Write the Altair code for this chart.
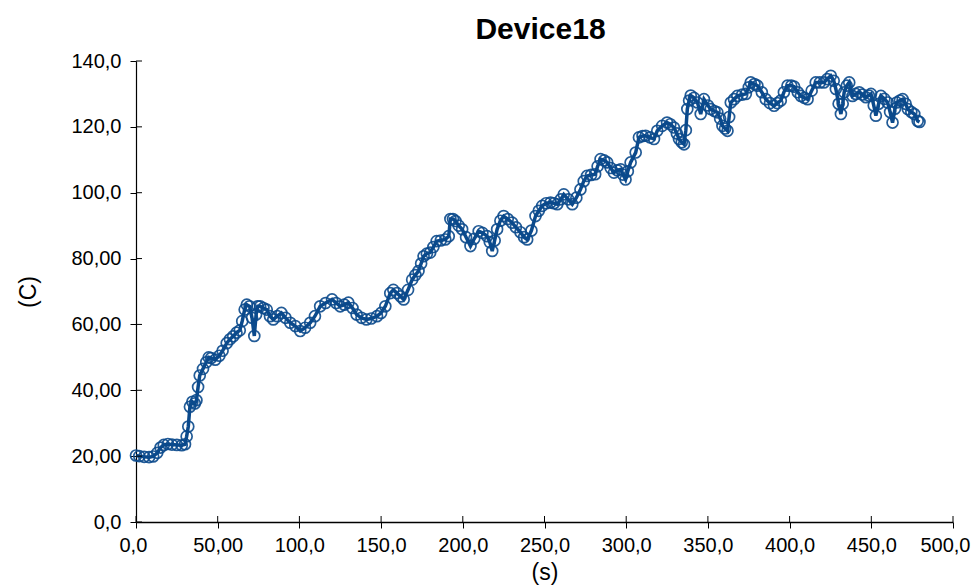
import altair as alt
import pandas as pd

# Temperature trace of Device18: time (s) and temperature (C)
time_s = [
    0, 2, 5, 8, 10.5, 13, 15, 17, 19.5, 22, 25, 28, 30, 31, 32, 33, 34.5, 36, 37, 38,
    39, 41, 43, 44.5, 46, 48.5, 51, 53, 55.5, 57.5, 59.5, 61.5, 63.5, 65, 66.5, 67.8, 69.5, 71, 72.4, 73.5,
    74.5, 76, 78, 80, 82, 84, 86.5, 89, 91.5, 94.4, 97.5, 100.5, 103.5, 106.6, 109.5, 112.7, 116, 120, 122.5, 125,
    127.5, 130, 132.5, 135, 138, 141, 144, 147.5, 150, 152.6, 155.6, 157.5, 159.7, 162, 163.8, 166.5, 169, 171, 172.9, 174.5,
    176, 178, 180, 182, 184, 186.5, 189.3, 191.4, 192.4, 194, 195.5, 197.5, 199.6, 202, 204.7, 207, 209.7, 212, 214.9, 216.5,
    218, 219.5, 221, 223, 225, 227.5, 230.2, 232.5, 235.3, 237.5, 239.4, 242, 244.5, 246.5, 248.6, 251, 253.7, 255.8, 257.8, 260,
    261.8, 264.5, 267, 269.5, 272, 274, 276, 278.5, 281, 282.5, 284.3, 286.5, 288.4, 290.5, 292.5, 294.5, 296.6, 298, 299.6, 301,
    302.7, 305.8, 307.8, 310, 311.9, 314.5, 317, 319, 322, 325, 327, 329.2, 331, 332.3, 334, 335.4, 336.5, 337.4, 338.5, 339.5,
    341.5, 343.6, 345.6, 347.6, 350, 351.7, 354, 355.8, 357.5, 358.9, 360.5, 362, 363, 364, 366, 368, 371, 373.2, 375, 376.2,
    378.5, 380.3, 383, 385.4, 388, 390.5, 392.5, 394.6, 396.5, 398.7, 401, 402.8, 405, 406.9, 409, 411, 413.5, 416, 418.5, 421,
    423, 425.2, 427, 428.3, 430, 431.4, 432.5, 433.4, 435, 436.5, 438.5, 440.5, 442.6, 444.5, 446.7, 448.5, 449.8, 451.5, 452.8, 454.5,
    455.9, 458, 460, 461.5, 463, 464.5, 465.5, 467.5, 469.2, 471, 472.3, 474.5, 476.3, 478.4, 479.5,
]
temp_c = [
    20.2, 20.0, 19.8, 19.7, 19.9, 21.0, 22.6, 23.4, 23.7, 23.5, 23.4, 23.3, 23.6, 26.0, 29.0, 35.0, 36.5, 36.0, 37.0, 41.0,
    44.5, 46.5, 48.5, 50.0, 49.8, 49.3, 50.5, 52.0, 54.3, 55.5, 56.4, 57.5, 58.2, 61.0, 64.5, 66.0, 65.5, 62.0, 56.5, 63.0,
    65.5, 65.5, 65.0, 64.5, 62.5, 61.5, 62.5, 63.5, 62.0, 60.5, 59.5, 58.0, 59.0, 60.5, 62.5, 65.5, 66.5, 67.6, 66.5, 65.5,
    66.0, 66.6, 65.0, 63.0, 62.0, 61.5, 61.8, 62.5, 63.5, 65.5, 69.5, 70.5, 69.5, 68.5, 67.6, 70.5, 73.6, 75.0, 76.2, 78.5,
    80.7, 81.5, 81.8, 83.5, 85.3, 85.5, 85.8, 86.8, 92.0, 92.0, 91.4, 90.0, 88.9, 86.5, 83.8, 86.0, 88.3, 87.8, 86.8, 85.0,
    82.3, 85.5, 88.9, 91.5, 92.9, 92.0, 90.9, 89.5, 88.0, 86.5, 85.8, 88.5, 92.9, 94.5, 96.0, 96.8, 97.0, 96.8, 96.5, 98.0,
    99.5, 98.0, 96.5, 98.5, 101.0, 103.5, 105.1, 105.4, 105.6, 108.0, 110.2, 109.8, 109.2, 107.5, 106.1, 106.8, 107.1, 105.5, 104.0, 106.5,
    109.2, 112.2, 116.8, 117.2, 117.3, 116.8, 116.3, 118.8, 120.3, 121.3, 120.8, 119.8, 118.0, 116.3, 115.3, 114.7, 119.0, 125.4, 128.0, 129.5,
    128.8, 127.4, 123.9, 128.4, 126.5, 125.4, 124.8, 124.4, 122.5, 120.3, 119.5, 118.8, 123.0, 127.4, 128.4, 129.4, 129.8, 130.0, 132.0, 133.5,
    133.0, 132.5, 130.5, 128.4, 127.2, 126.4, 127.2, 128.0, 130.5, 132.5, 132.5, 132.2, 130.5, 129.4, 128.8, 128.4, 131.0, 133.5, 133.5, 133.5,
    134.5, 135.5, 134.0, 131.5, 127.0, 123.9, 127.0, 130.5, 132.5, 133.5, 129.4, 130.0, 130.5, 129.8, 129.0, 129.5, 130.0, 126.5, 123.4, 127.0,
    129.4, 128.5, 127.4, 124.5, 121.3, 125.5, 127.4, 128.0, 128.4, 127.0, 125.4, 124.5, 123.9, 121.8, 121.5,
]

# Axis ticks and their printed labels
x_ticks = [0, 50, 100, 150, 200, 250, 300, 350, 400, 450, 500]
x_tick_labels = ["0,0", "50,00", "100,0", "150,0", "200,0", "250,0", "300,0", "350,0", "400,0", "450,0", "500,0"]
y_ticks = [0, 20, 40, 60, 80, 100, 120, 140]
y_tick_labels = ["0,0", "20,00", "40,00", "60,00", "80,00", "100,0", "120,0", "140,0"]

W, H = 817, 461
BLUE = "#0b4a8c"
FONT = "Liberation Sans"
TICK = 6


def label_expr(values, labels):
    expr = "''"
    for v, lab in reversed(list(zip(values, labels))):
        expr = f"datum.value == {v} ? '{lab}' : ({expr})"
    return expr


df = pd.DataFrame({"t": time_s, "c": temp_c})
xt = pd.DataFrame({"v": x_ticks})
yt = pd.DataFrame({"v": y_ticks})

x_scale = alt.Scale(domain=[0, 500], nice=False, zero=False)
y_scale = alt.Scale(domain=[0, 140], nice=False)

x_axis = alt.Axis(
    title="(s)", values=x_ticks, labelExpr=label_expr(x_ticks, x_tick_labels),
    grid=False, tickSize=TICK, tickColor="black", domainColor="black", domainWidth=1.5,
    labelFont=FONT, labelFontSize=20, labelColor="black", labelPadding=7,
    labelFlush=True, labelFlushOffset=17, labelOverlap=False, labelBound=False,
    titleFont=FONT, titleFontSize=23, titleFontWeight="normal", titleColor="black", titlePadding=6,
)
y_axis = alt.Axis(
    title="(C)", values=y_ticks, labelExpr=label_expr(y_ticks, y_tick_labels),
    grid=False, tickSize=TICK, tickColor="black", domainColor="black", domainWidth=1.2,
    labelFont=FONT, labelFontSize=20, labelColor="black", labelPadding=9,
    labelFlush=False, labelOverlap=False,
    titleFont=FONT, titleFontSize=23, titleFontWeight="normal", titleColor="black", titlePadding=30,
)

line = alt.Chart(df).mark_line(color=BLUE, strokeWidth=3.5).encode(
    x=alt.X("t:Q", scale=x_scale, axis=x_axis),
    y=alt.Y("c:Q", scale=y_scale, axis=y_axis),
)
points = alt.Chart(df).mark_point(
    shape="circle", filled=False, color=BLUE, size=120, strokeWidth=1.7, opacity=0.9
).encode(x=alt.X("t:Q", scale=x_scale), y=alt.Y("c:Q", scale=y_scale))

# inner halves of the tick marks, so ticks cross the axis lines
x_inner = alt.Chart(xt).mark_rule(color="black", strokeWidth=1).encode(
    x=alt.X("v:Q", scale=x_scale), y=alt.value(H - TICK), y2=alt.value(H)
)
y_inner = alt.Chart(yt).mark_rule(color="black", strokeWidth=1).encode(
    y=alt.Y("v:Q", scale=y_scale), x=alt.value(0), x2=alt.value(TICK)
)

chart = (
    alt.layer(line, points, x_inner, y_inner)
    .properties(
        width=W, height=H,
        title=alt.TitleParams("Device18", font=FONT, fontSize=30, fontWeight="bold",
                              color="black", anchor="middle", offset=6, dx=-4),
        autosize=alt.AutoSizeParams(type="none"),
        padding={"left": 136, "top": 61, "right": 20, "bottom": 63},
        background="white",
    )
    .configure_view(stroke=None)
)

chart.save("out.html", embed_options={"renderer": "svg", "actions": False})
